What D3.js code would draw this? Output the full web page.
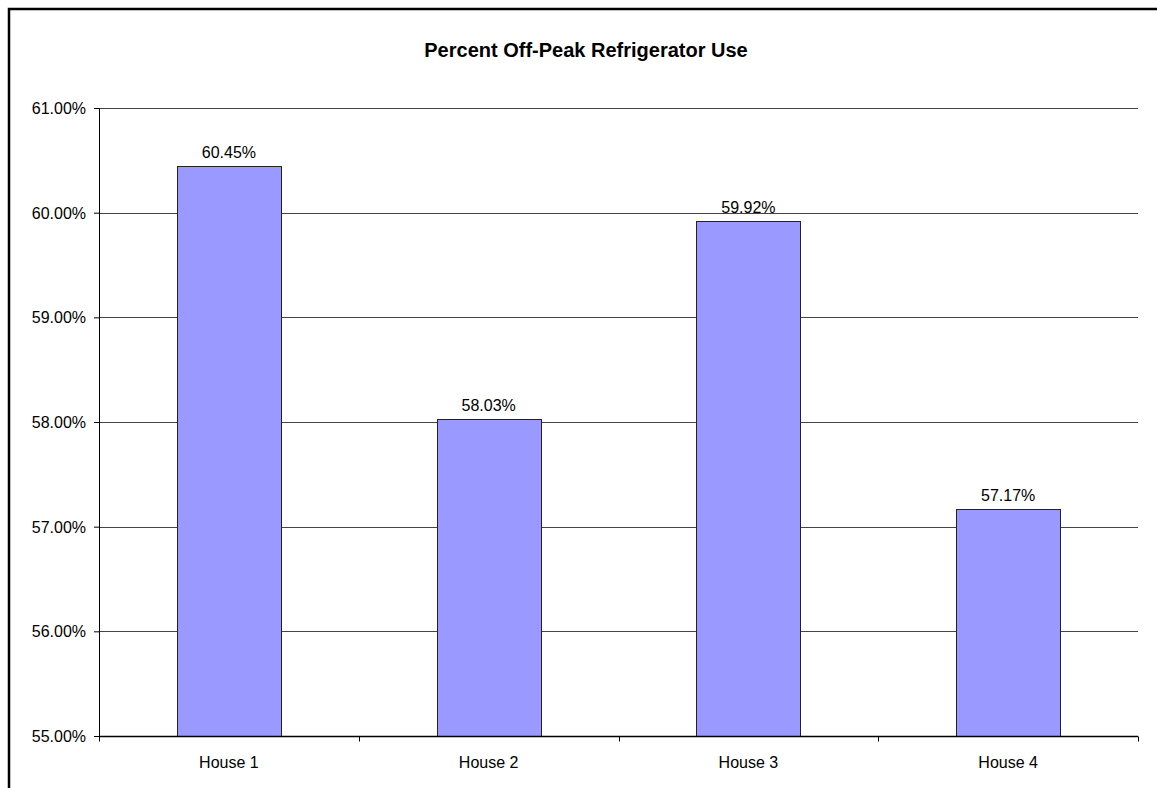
<!DOCTYPE html>
<html>
<head>
<meta charset="utf-8">
<script src="https://cdn.jsdelivr.net/npm/d3@7"></script>
<style>
  body { margin: 0; background: #fff; }
  svg text { font-family: "Liberation Sans", Arial, sans-serif; fill: #000; }
  .title { font-weight: bold; font-size: 20px; }
  .tick-label, .cat-label, .val-label { font-size: 16px; }
</style>
</head>
<body>
<svg width="1157" height="788"></svg>
<script>
  const titleText = 'Percent Off-Peak Refrigerator Use';

  // chart data
  const houses = ['House 1', 'House 2', 'House 3', 'House 4'];
  const offPeakPct = [60.45, 58.03, 59.92, 57.17];
  const yTicks = [55, 56, 57, 58, 59, 60, 61];

  const svg = d3.select('svg');

  // outer chart frame (runs off the right/bottom edge like the original)
  svg.append('rect')
    .attr('x', 9).attr('y', 9)
    .attr('width', 1165).attr('height', 800)
    .attr('fill', 'none')
    .attr('stroke', '#000')
    .attr('stroke-width', 2.5);

  const margin = { top: 108, right: 19, bottom: 52, left: 99 };
  const innerWidth = 1157 - margin.left - margin.right;
  const innerHeight = 788 - margin.top - margin.bottom;

  const g = svg.append('g')
    .attr('transform', `translate(${margin.left},${margin.top})`);

  const yScale = d3.scaleLinear()
    .domain([55, 61])
    .range([innerHeight, 0]);

  const xScale = d3.scaleBand()
    .domain(houses)
    .range([0, innerWidth])
    .padding(0);

  // bar takes 40% of the category slot (excel gap width 150)
  const barW = xScale.bandwidth() * 0.4;

  // gridlines
  g.selectAll('.grid').data(yTicks.slice(1))
    .enter().append('line')
      .attr('x1', 0).attr('x2', innerWidth)
      .attr('y1', d => Math.round(yScale(d)) + 0.5)
      .attr('y2', d => Math.round(yScale(d)) + 0.5)
      .attr('stroke', '#444')
      .attr('stroke-width', 1);

  // bars
  g.selectAll('.bar').data(houses)
    .enter().append('rect')
      .attr('x', d => Math.round(xScale(d) + (xScale.bandwidth() - barW) / 2) + 0.5)
      .attr('y', (d, i) => Math.round(yScale(offPeakPct[i])) + 0.5)
      .attr('width', Math.round(barW))
      .attr('height', (d, i) => Math.round(innerHeight) - Math.round(yScale(offPeakPct[i])))
      .attr('fill', '#9999ff')
      .attr('stroke', '#222')
      .attr('stroke-width', 1);

  // value labels
  g.selectAll('.val-label').data(houses)
    .enter().append('text')
      .attr('class', 'val-label')
      .attr('x', d => xScale(d) + xScale.bandwidth() / 2)
      .attr('y', (d, i) => yScale(offPeakPct[i]) - 8)
      .attr('text-anchor', 'middle')
      .text((d, i) => offPeakPct[i].toFixed(2) + '%');

  // y axis
  const yAxis = d3.axisLeft(yScale)
    .tickValues(yTicks)
    .tickSize(5)
    .tickPadding(8)
    .tickFormat(d => d.toFixed(2) + '%');

  const yAxisG = g.append('g').call(yAxis)
    .attr('font-family', null).attr('font-size', null);
  yAxisG.select('.domain').attr('d', `M0.5,0V${innerHeight}`).attr('stroke', '#000');
  yAxisG.selectAll('.tick line').attr('stroke', '#000');
  yAxisG.selectAll('text')
    .attr('class', 'tick-label')
    .attr('dy', '0.35em');

  // x axis: ticks sit on category boundaries
  const xAxisG = g.append('g')
    .attr('transform', `translate(0,${Math.round(innerHeight) + 0.5})`);
  xAxisG.append('line')
    .attr('x1', 0).attr('x2', innerWidth)
    .attr('stroke', '#000').attr('stroke-width', 1.5);
  const boundaries = houses.map(d => xScale(d)).concat([innerWidth]);
  xAxisG.selectAll('.xtick').data(boundaries)
    .enter().append('line')
      .attr('x1', d => Math.round(d) + 0.5).attr('x2', d => Math.round(d) + 0.5)
      .attr('y1', 0).attr('y2', 5)
      .attr('stroke', '#000');
  xAxisG.selectAll('.cat-label').data(houses)
    .enter().append('text')
      .attr('class', 'cat-label')
      .attr('x', d => xScale(d) + xScale.bandwidth() / 2)
      .attr('y', 31)
      .attr('text-anchor', 'middle')
      .text(d => d);

  // title
  svg.append('text')
    .attr('class', 'title')
    .attr('x', 586)
    .attr('y', 57)
    .attr('text-anchor', 'middle')
    .text(titleText);
</script>
</body>
</html>
